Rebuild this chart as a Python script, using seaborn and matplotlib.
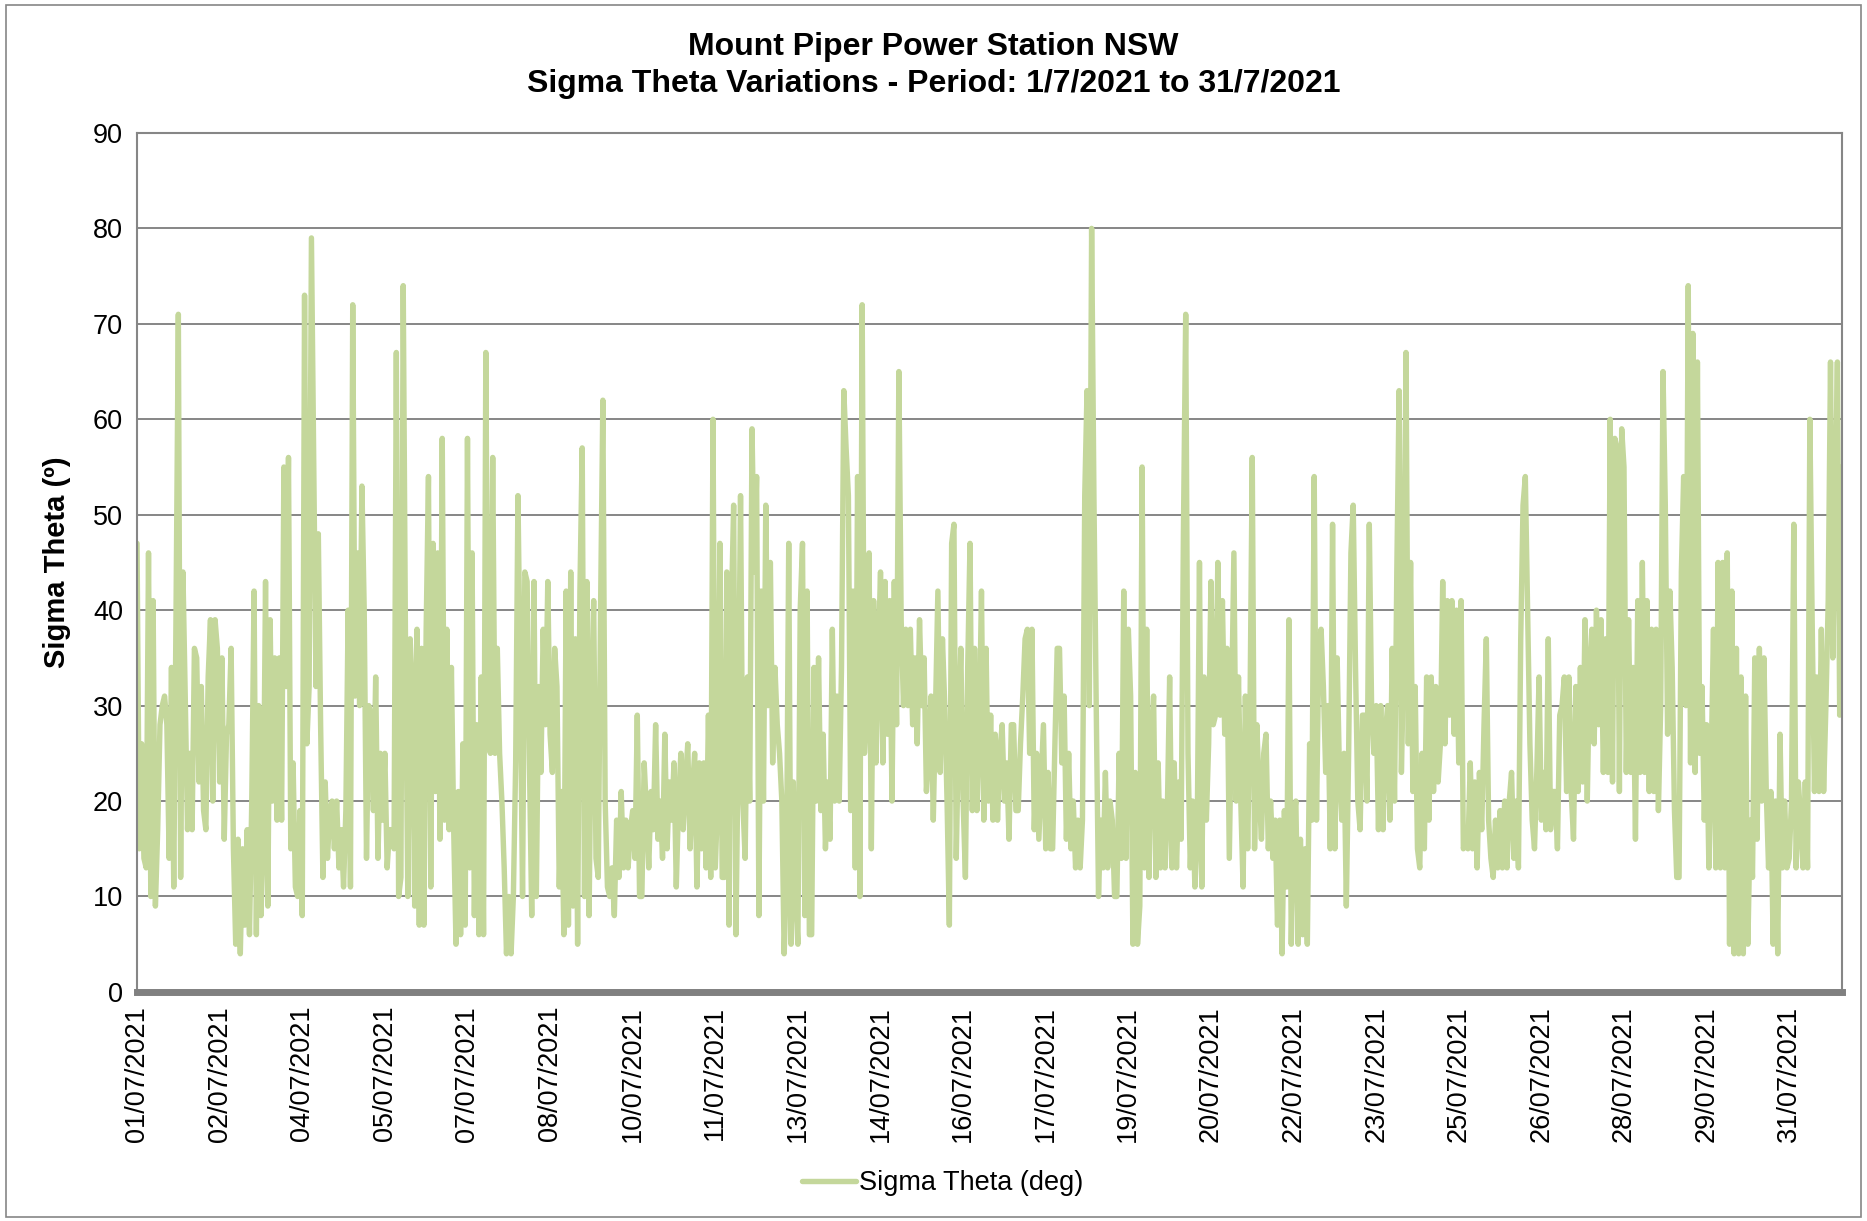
import matplotlib
matplotlib.use("Agg")
import matplotlib.pyplot as plt
import matplotlib.patches as mpatches
import numpy as np
import pandas as pd
import seaborn as sns

# Hourly Sigma Theta values (deg), one list per day, 1/7/2021 .. 31/7/2021
d01 = [47, 15, 26, 14, 13, 46, 10, 41, 9, 17, 28, 30, 31, 28, 14, 34, 11, 40, 71, 12, 44, 31, 17, 25]
d02 = [17, 36, 35, 22, 32, 19, 17, 33, 39, 20, 39, 36, 22, 35, 16, 27, 28, 36, 15, 5, 16, 4, 15, 7]
d03 = [17, 6, 20, 42, 6, 30, 8, 16, 43, 9, 39, 20, 35, 18, 35, 18, 55, 32, 56, 15, 24, 11, 10, 19]
d04 = [8, 73, 26, 32, 79, 56, 32, 48, 28, 12, 22, 14, 19, 20, 15, 20, 13, 17, 11, 19, 40, 11, 72, 31]
d05 = [46, 30, 53, 40, 14, 30, 29, 19, 33, 14, 25, 18, 25, 13, 17, 17, 15, 67, 10, 12, 74, 36, 10, 37]
d06 = [32, 9, 38, 7, 36, 7, 38, 54, 11, 47, 21, 46, 16, 58, 18, 38, 17, 34, 17, 5, 21, 6, 26, 7]
d07 = [58, 13, 46, 8, 28, 6, 33, 6, 67, 26, 25, 56, 25, 36, 25, 20, 13, 4, 10, 4, 10, 24, 52, 33]
d08 = [10, 44, 43, 24, 8, 43, 10, 32, 23, 38, 28, 43, 27, 23, 36, 32, 11, 21, 6, 42, 7, 44, 9, 37]
d09 = [5, 42, 57, 10, 43, 8, 31, 41, 14, 12, 40, 62, 20, 11, 10, 13, 8, 18, 12, 21, 13, 18, 13, 17]
d10 = [19, 14, 29, 10, 10, 24, 19, 13, 21, 17, 28, 16, 20, 14, 27, 15, 22, 18, 24, 11, 20, 25, 17, 22]
d11 = [26, 15, 21, 25, 11, 24, 15, 24, 13, 29, 12, 60, 13, 20, 47, 12, 12, 44, 7, 40, 51, 6, 26, 52]
d12 = [20, 14, 33, 20, 59, 44, 54, 8, 42, 20, 51, 30, 45, 24, 34, 28, 25, 20, 4, 12, 47, 5, 22, 10]
d13 = [5, 40, 47, 8, 42, 6, 6, 34, 20, 35, 19, 27, 15, 22, 16, 38, 20, 31, 20, 34, 63, 57, 52, 19]
d14 = [42, 13, 54, 10, 72, 25, 30, 46, 15, 41, 24, 35, 44, 24, 43, 27, 41, 20, 43, 28, 65, 39, 30, 38]
d15 = [30, 38, 28, 35, 26, 39, 30, 35, 21, 25, 31, 18, 30, 42, 23, 37, 30, 20, 7, 47, 49, 14, 27, 36]
d16 = [20, 12, 34, 47, 19, 36, 19, 27, 42, 18, 36, 20, 29, 18, 27, 18, 25, 28, 20, 24, 16, 28, 28, 19]
d17 = [19, 26, 31, 37, 38, 25, 38, 17, 25, 16, 22, 28, 15, 23, 15, 15, 26, 36, 36, 24, 31, 16, 25, 15]
d18 = [20, 13, 18, 13, 18, 52, 63, 30, 80, 52, 30, 10, 18, 13, 23, 13, 20, 18, 10, 10, 25, 14, 42, 14]
d19 = [38, 31, 5, 23, 5, 9, 55, 13, 38, 12, 26, 31, 12, 24, 13, 20, 13, 19, 33, 13, 24, 13, 22, 16]
d20 = [48, 71, 25, 13, 20, 11, 16, 45, 11, 33, 18, 26, 43, 28, 29, 45, 29, 41, 27, 36, 14, 30, 46, 20]
d21 = [33, 20, 11, 31, 15, 29, 56, 15, 28, 21, 16, 25, 27, 15, 20, 14, 18, 7, 18, 4, 19, 11, 39, 5]
d22 = [18, 20, 5, 16, 6, 15, 5, 26, 18, 54, 18, 36, 38, 32, 23, 30, 15, 49, 15, 35, 23, 18, 25, 9]
d23 = [25, 46, 51, 34, 20, 17, 29, 29, 20, 49, 30, 25, 30, 17, 30, 17, 27, 30, 18, 36, 20, 44, 63, 23]
d24 = [35, 67, 26, 45, 21, 32, 15, 13, 25, 15, 33, 18, 33, 21, 32, 22, 26, 43, 26, 41, 29, 41, 27, 40]
d25 = [24, 41, 15, 16, 15, 24, 15, 22, 13, 23, 17, 28, 37, 18, 14, 12, 18, 13, 19, 13, 20, 13, 20, 23]
d26 = [14, 20, 13, 37, 51, 54, 40, 26, 18, 15, 23, 33, 18, 23, 17, 37, 17, 21, 21, 15, 29, 30, 33, 21]
d27 = [33, 21, 16, 32, 21, 34, 22, 39, 20, 34, 38, 26, 40, 28, 39, 23, 37, 23, 60, 22, 58, 57, 21, 59]
d28 = [55, 23, 39, 23, 34, 16, 41, 23, 45, 23, 41, 21, 38, 21, 38, 19, 30, 65, 51, 27, 42, 34, 19, 12]
d29 = [12, 44, 54, 30, 74, 24, 69, 23, 66, 25, 32, 18, 28, 13, 24, 38, 13, 45, 13, 45, 13, 46, 5, 42]
d30 = [4, 36, 4, 33, 4, 31, 5, 18, 12, 35, 16, 36, 20, 35, 21, 13, 21, 5, 20, 4, 27, 13, 20, 13]
d31 = [14, 20, 49, 13, 22, 18, 13, 22, 13, 60, 39, 21, 33, 21, 38, 21, 30, 41, 66, 35, 50, 66, 29, 55]

days = [d01, d02, d03, d04, d05, d06, d07, d08, d09, d10, d11, d12, d13, d14, d15, d16,
        d17, d18, d19, d20, d21, d22, d23, d24, d25, d26, d27, d28, d29, d30, d31]

tick_labels = ["01/07/2021", "02/07/2021", "04/07/2021", "05/07/2021", "07/07/2021",
               "08/07/2021", "10/07/2021", "11/07/2021", "13/07/2021", "14/07/2021",
               "16/07/2021", "17/07/2021", "19/07/2021", "20/07/2021", "22/07/2021",
               "23/07/2021", "25/07/2021", "26/07/2021", "28/07/2021", "29/07/2021",
               "31/07/2021"]

title_lines = ["Mount Piper Power Station NSW",
               "Sigma Theta Variations - Period: 1/7/2021 to 31/7/2021"]
y_label = "Sigma Theta (º)"
series_name = "Sigma Theta (deg)"

values = [v for d in days for v in d]
df = pd.DataFrame({"hour": np.arange(len(values)), "sigma": values})

sns.set_theme(style="white")
plt.rcParams["font.family"] = ["Liberation Sans", "DejaVu Sans"]
plt.rcParams["text.color"] = "black"
plt.rcParams["axes.labelcolor"] = "black"

fig = plt.figure(figsize=(18.67, 12.21), dpi=100)
ax = fig.add_axes([0.0734, 0.1876, 0.9132, 0.7035])

line_color = "#C4D79B"
grid_color = "#868686"

sns.lineplot(data=df, x="hour", y="sigma", ax=ax, color=line_color, linewidth=3.9,
             label=series_name, legend=False, solid_joinstyle="round", solid_capstyle="round")

ax.set_xlim(0, len(values) - 1)
ax.set_ylim(0, 90)
ax.set_yticks(np.arange(0, 91, 10))
ax.set_xticks(np.arange(0, len(values), 36)[:len(tick_labels)])
ax.set_xticklabels(tick_labels, rotation=90, fontsize=19.5)
ax.tick_params(axis="y", labelsize=19.5, length=0, pad=10, colors="black")
ax.tick_params(axis="x", length=0, pad=10, colors="black")
ax.yaxis.grid(True, color=grid_color, linewidth=1.4)
ax.set_axisbelow(True)
ax.set_xlabel("")
ax.set_ylabel(y_label, fontsize=21, fontweight="bold", labelpad=16, color="black")

for side in ["top", "right", "left"]:
    ax.spines[side].set_color(grid_color)
    ax.spines[side].set_linewidth(1.5)
ax.spines["bottom"].set_color("#808080")
ax.spines["bottom"].set_linewidth(5)

fig.text(0.5, 0.9615, title_lines[0], ha="center", va="center", fontsize=23,
         fontweight="bold", color="black")
fig.text(0.5, 0.9315, title_lines[1], ha="center", va="center", fontsize=23,
         fontweight="bold", color="black")

handles, labels = ax.get_legend_handles_labels()
leg = fig.legend(handles, labels, loc="center", bbox_to_anchor=(0.505, 0.031), frameon=False,
                 fontsize=19.5, handlelength=2.0, handletextpad=0.1, labelcolor="black")

border = mpatches.Rectangle((0.003, 0.003), 0.994, 0.993, transform=fig.transFigure,
                            fill=False, edgecolor="#868686", linewidth=1.2)
fig.patches.append(border)

fig.savefig("out.png", dpi=100)
